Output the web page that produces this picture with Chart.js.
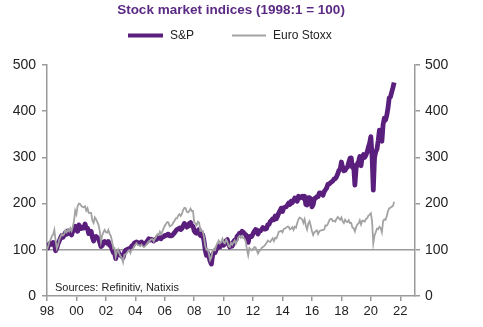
<!DOCTYPE html>
<html>
<head>
<meta charset="utf-8">
<script src="https://cdn.jsdelivr.net/npm/chart.js@4"></script>
<style>
html,body{margin:0;padding:0;background:#fff;}
#wrap{position:relative;width:483px;height:327px;}
</style>
</head>
<body>
<div id="wrap"><canvas id="c" width="483" height="327"></canvas></div>
<script>
// Monthly values, 1998:1 = 100 (Jan 1998 .. Aug 2021)
const startYear = 1998;
const tickLabels = ['98','00','02','04','06','08','10','12','14','16','18','20','22'];
const seriesNames = ['S&P', 'Euro Stoxx'];
const spx = [
  100,108,113,114,112,116,115,98,104,113,119,126,
  131,127,132,137,134,141,136,135,132,140,142,151,
  143,140,154,149,146,149,147,156,147,147,135,135,
  140,127,119,128,129,126,124,116,107,109,117,118,
  116,114,118,110,109,102,94,94,81,91,96,90,
  88,86,83,94,99,100,102,103,102,108,109,114,
  116,117,115,114,115,117,113,113,114,116,120,124,
  121,123,121,119,122,122,127,125,126,124,128,128,
  131,131,133,134,130,130,131,134,137,141,144,145,
  147,144,146,152,157,154,149,151,157,159,152,151,
  141,137,136,142,144,131,130,132,119,99,88,93,
  85,75,69,88,94,94,101,105,108,106,112,114,
  110,113,120,122,112,106,113,108,117,121,121,129,
  132,136,136,140,138,135,133,125,116,129,128,129,
  135,140,144,143,134,140,141,144,148,145,145,146,
  154,155,161,164,167,165,173,167,173,180,185,190,
  183,191,192,193,197,201,198,205,202,207,212,211,
  205,216,212,214,216,212,216,198,197,213,213,210,
  193,198,211,212,215,215,223,223,222,218,226,230,
  234,242,242,245,247,249,253,254,258,264,272,274,
  290,278,271,272,277,279,289,298,299,278,283,240,
  277,286,291,302,282,302,306,300,305,312,322,331,
  345,303,229,299,312,318,336,359,345,335,371,385,
  381,391,407,429,431,441,451,462
];
const euroStoxx = [
  100,108,118,122,130,133,143,120,103,110,122,128,
  134,131,134,142,138,143,140,147,141,150,162,185,
  177,195,200,199,195,193,192,194,185,190,180,180,
  180,163,158,170,166,160,154,141,118,131,138,143,
  138,137,143,135,130,119,103,104,85,96,101,91,
  86,82,73,89,90,93,97,99,93,100,102,107,
  111,114,110,110,108,111,108,106,108,111,115,118,
  120,123,123,118,124,128,134,132,139,134,140,146,
  152,156,160,159,151,152,154,159,163,168,168,174,
  177,173,178,186,191,190,182,181,184,189,184,184,
  160,157,153,161,159,141,141,141,127,108,100,101,
  91,78,84,97,101,99,109,115,120,114,117,124,
  116,114,122,118,108,106,115,111,116,120,113,119,
  127,130,126,130,125,124,118,101,88,104,101,99,
  102,106,105,99,92,97,99,104,106,108,111,115,
  120,118,117,121,125,119,126,125,131,139,140,141,
  138,145,146,148,150,150,144,146,149,143,150,148,
  158,166,170,168,166,158,166,152,144,157,162,152,
  140,132,138,140,142,134,140,142,142,143,144,153,
  152,156,163,167,167,162,163,161,167,171,168,165,
  170,162,158,165,161,160,164,158,158,148,147,140,
  149,155,157,164,155,163,163,161,167,168,174,176,
  179,162,114,131,138,146,145,150,147,138,162,166,
  165,173,184,190,191,193,195,204
];

const purple = '#5a1f7c';
const grey = '#a3a3a3';
const axisGrey = '#9a9a9a';
const textCol = '#222222';
const fontFam = '"Liberation Sans", Arial, sans-serif';

function toPoints(arr){ return arr.map((v,i)=>({x: startYear + i/12, y: v})); }

const decor = {
  id: 'decor',
  beforeDatasetsDraw(chart){
    const {ctx, chartArea} = chart;
    const y = chart.scales.y.getPixelForValue(100);
    ctx.save();
    ctx.strokeStyle = axisGrey;
    ctx.lineWidth = 1.5;
    ctx.beginPath();
    ctx.moveTo(chartArea.left, y);
    ctx.lineTo(chartArea.right, y);
    ctx.stroke();
    ctx.restore();
  },
  afterDraw(chart){
    const {ctx, chartArea} = chart;
    ctx.save();
    // title
    ctx.fillStyle = '#5b2a84';
    ctx.font = 'bold 13.5px ' + fontFam;
    ctx.textAlign = 'center';
    ctx.textBaseline = 'middle';
    ctx.fillText('Stock market indices (1998:1 = 100)', 231, 10);
    // legend
    ctx.lineCap = 'butt';
    ctx.strokeStyle = purple;
    ctx.lineWidth = 4;
    ctx.beginPath(); ctx.moveTo(128, 35.5); ctx.lineTo(163, 35.5); ctx.stroke();
    ctx.strokeStyle = grey;
    ctx.lineWidth = 1.8;
    ctx.beginPath(); ctx.moveTo(232, 35.5); ctx.lineTo(266, 35.5); ctx.stroke();
    ctx.fillStyle = textCol;
    ctx.font = '12px ' + fontFam;
    ctx.textAlign = 'left';
    ctx.fillText(seriesNames[0], 170, 36);
    ctx.fillText(seriesNames[1], 273, 36);
    // source
    ctx.font = '11px ' + fontFam;
    ctx.fillText('Sources: Refinitiv, Natixis', 55, chartArea.bottom - 8);
    ctx.restore();
  }
};

new Chart(document.getElementById('c'), {
  type: 'line',
  data: {
    datasets: [
      { label: seriesNames[0], data: toPoints(spx), borderColor: purple, borderWidth: 4.8,
        pointRadius: 0, tension: 0, fill: false, order: 1, borderJoinStyle: 'round' },
      { label: seriesNames[1], data: toPoints(euroStoxx), borderColor: grey, borderWidth: 1.8,
        pointRadius: 0, tension: 0, fill: false, order: 0 }
    ]
  },
  options: {
    responsive: false,
    animation: false,
    devicePixelRatio: 1,
    layout: { padding: { top: 65, left: 0, right: 0, bottom: 0 } },
    plugins: { legend: { display: false }, title: { display: false }, tooltip: { enabled: false } },
    scales: {
      x: {
        type: 'linear', min: 1998, max: 2023,
        grid: { drawOnChartArea: false, drawTicks: true, tickLength: 5, color: axisGrey, lineWidth: 1.5 },
        border: { color: axisGrey, width: 1.5 },
        ticks: {
          stepSize: 2, includeBounds: false, autoSkip: false, maxRotation: 0, padding: 3,
          color: textCol, font: { family: fontFam, size: 13 },
          callback: (v) => tickLabels[Math.round((v - startYear) / 2)]
        },
        afterFit(s){ s.height = 31; }
      },
      y: {
        position: 'left', min: 0, max: 500,
        grid: { drawOnChartArea: false, drawTicks: true, tickLength: 5, color: axisGrey, lineWidth: 1.5 },
        border: { color: axisGrey, width: 1.5 },
        ticks: { stepSize: 100, padding: 6, color: textCol, font: { family: fontFam, size: 14 } },
        afterFit(s){ s.width = 47; }
      },
      y2: {
        position: 'right', min: 0, max: 500,
        grid: { drawOnChartArea: false, drawTicks: true, tickLength: 5, color: axisGrey, lineWidth: 1.5 },
        border: { color: axisGrey, width: 1.5 },
        ticks: { stepSize: 100, padding: 5, color: textCol, font: { family: fontFam, size: 14 } },
        afterFit(s){ s.width = 68; }
      }
    }
  },
  plugins: [decor]
});
</script>
</body>
</html>
